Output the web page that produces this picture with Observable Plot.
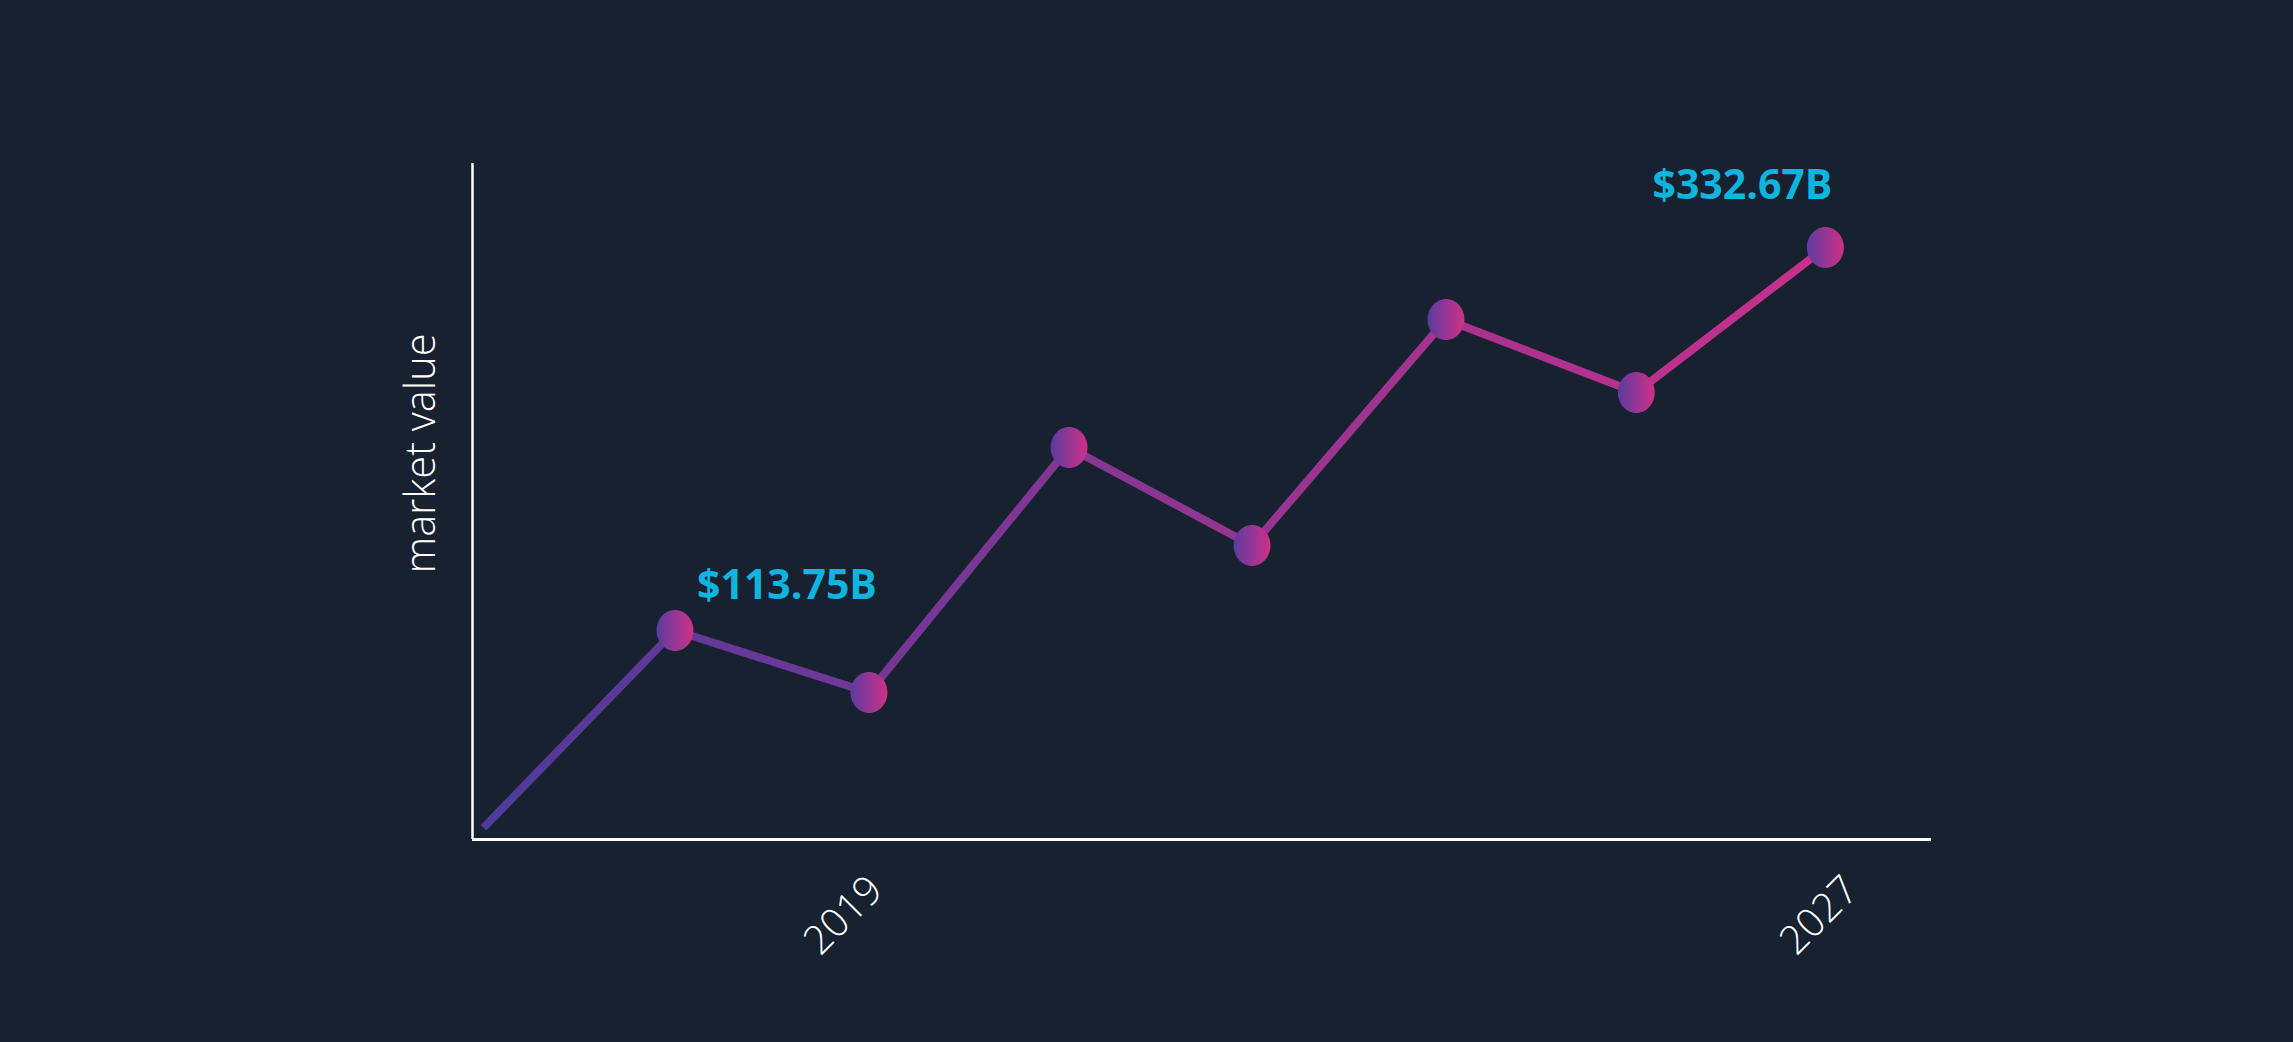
<!DOCTYPE html>
<html>
<head>
<meta charset="utf-8">
<script src="https://cdn.jsdelivr.net/npm/d3@7"></script>
<script src="https://cdn.jsdelivr.net/npm/@observablehq/plot@0.6"></script>
<style>
  html, body { margin: 0; padding: 0; background: #172130; }
  #chart svg { display: block; }
</style>
</head>
<body>
<div id="chart"></div>
<script>
// ---- data ----
const years  = [2016, 2017.57, 2019.16, 2020.8, 2022.3, 2023.89, 2025.45, 2027];
const values = [1, 113.75, 78.3, 218.4, 162.3, 291.5, 249.8, 332.67];
const tickYears  = [2019, 2027];
const tickLabels = ["2019", "2027"];
const noteFirst = {year: 2017.57, value: 113.75, label: "$113.75B"};
const noteLast  = {year: 2027, value: 332.67, label: "$332.67B"};
const yLabel = "market value";
const xDomain = [2015.91, 2027.87];
const yDomain = [-5.7, 380.7];

const points = years.map((x, i) => ({x, y: values[i]}));
const dotPoints = points.slice(1);

// slightly tall ellipse symbol
const ellipse = {
  draw(context, size) {
    const r = Math.sqrt(size / Math.PI);
    const rx = r * 0.9, ry = r, k = 0.5523;
    context.moveTo(rx, 0);
    context.bezierCurveTo(rx, ry * k, rx * k, ry, 0, ry);
    context.bezierCurveTo(-rx * k, ry, -rx, ry * k, -rx, 0);
    context.bezierCurveTo(-rx, -ry * k, -rx * k, -ry, 0, -ry);
    context.bezierCurveTo(rx * k, -ry, rx, -ry * k, rx, 0);
    context.closePath();
  }
};

const cyan = "#0fb4df";

const chart = Plot.plot({
  width: 2293,
  height: 1042,
  marginLeft: 472,
  marginRight: 362,
  marginTop: 163,
  marginBottom: 203,
  style: {background: "#172130", color: "white", fontFamily: "'Open Sans', sans-serif"},
  x: {domain: xDomain, axis: null},
  y: {domain: yDomain, axis: null},
  marks: [
    Plot.ruleX([xDomain[0]], {stroke: "white", strokeWidth: 2.5}),
    Plot.ruleY([yDomain[0]], {stroke: "white", strokeWidth: 3}),
    Plot.line(points, {x: "x", y: "y", stroke: "url(#lineGrad)", strokeWidth: 8, strokeLinecap: "butt", strokeLinejoin: "round"}),
    Plot.dot(dotPoints, {x: "x", y: "y", r: 20.5, symbol: ellipse, fill: "url(#dotGrad)", stroke: "none"}),
    Plot.text([noteFirst], {x: "year", y: "value", text: "label", fill: cyan, fontSize: 41, fontWeight: 700, textAnchor: "start", lineAnchor: "bottom", dx: 22, dy: -32}),
    Plot.text([noteLast], {x: "year", y: "value", text: "label", fill: cyan, fontSize: 41, fontWeight: 700, textAnchor: "end", lineAnchor: "bottom", dx: 7, dy: -49}),
    Plot.text(tickYears, {x: d => d, text: (d, i) => tickLabels[i], frameAnchor: "bottom", rotate: -45, textAnchor: "middle", lineAnchor: "middle", dx: -6, dy: 76, fontSize: 40, fontWeight: 300, fill: "white"}),
    Plot.text([yLabel], {frameAnchor: "left", rotate: -90, textAnchor: "middle", lineAnchor: "bottom", dx: -38, dy: -48, fontSize: 41.5, fontWeight: 300, fill: "white"})
  ]
});

const defs = d3.select(chart).insert("defs", ":first-child");
const lg = defs.append("linearGradient").attr("id", "lineGrad").attr("x1", "0").attr("x2", "1").attr("y1", "0").attr("y2", "0");
lg.append("stop").attr("offset", "0%").attr("stop-color", "#4f3a9b");
lg.append("stop").attr("offset", "100%").attr("stop-color", "#c9308b");
const dg = defs.append("linearGradient").attr("id", "dotGrad").attr("x1", "0").attr("x2", "1").attr("y1", "0").attr("y2", "0");
dg.append("stop").attr("offset", "0%").attr("stop-color", "#5a3c9f");
dg.append("stop").attr("offset", "100%").attr("stop-color", "#d03088");

document.getElementById("chart").appendChild(chart);
</script>
</body>
</html>
